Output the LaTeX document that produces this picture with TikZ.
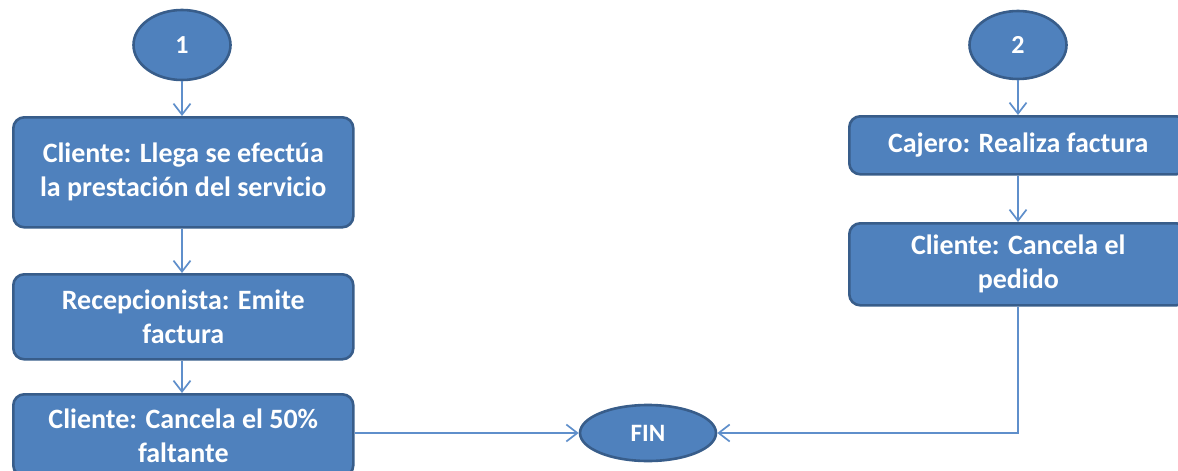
\documentclass[tikz,border=0pt]{standalone}
\usepackage{fontspec}
\setmainfont{Carlito}
\usetikzlibrary{arrows.meta,shapes.geometric}
\definecolor{boxfill}{HTML}{4F81BD}
\definecolor{boxline}{HTML}{385D8A}
\definecolor{wire}{HTML}{5F8FCB}
\tikzset{
  procbox/.style={draw=boxline, line width=2.6pt, fill=boxfill, rounded corners=11pt,
    text=white, font=\bfseries\fontsize{28}{34}\selectfont, align=center,
    inner sep=0pt, anchor=north west},
  term/.style={ellipse, draw=boxline, line width=2.6pt, fill=boxfill, inner sep=0pt,
    text=white, font=\bfseries\fontsize{26}{30}\selectfont},
  flow/.style={draw=wire, line width=1.7pt,
    -{Straight Barb[length=11pt,width=17pt,line width=1.7pt]}}
}
\begin{document}
\begin{tikzpicture}[x=1pt,y=-1pt]
\useasboundingbox (0,0) rectangle (1178,471);
\clip (0,0) rectangle (1178,471);

% start markers
\node[term, minimum width=97pt, minimum height=70pt] (s1) at (182,45) {1};
\node[term, minimum width=97pt, minimum height=68pt] (s2) at (1018,45) {2};

% left column
\node[procbox, minimum width=340pt, minimum height=110pt] (b1) at (12,116)
  {Cliente: Llega se efectúa\\la prestación del servicio};
\node[procbox, minimum width=340pt, minimum height=85pt] (b2) at (12,273)
  {Recepcionista: Emite\\factura};
\node[procbox, minimum width=340pt, minimum height=82pt] (b3) at (12,393)
  {Cliente: Cancela el 50\%\\faltante};

% right column
\node[procbox, minimum width=338pt, minimum height=58pt] (c1) at (848,115)
  {Cajero: Realiza factura};
\node[procbox, minimum width=338pt, minimum height=82pt] (c2) at (848,222)
  {Cliente: Cancela el\\pedido};

% end marker
\node[term, minimum width=136pt, minimum height=56pt,
  font=\bfseries\fontsize{25}{29}\selectfont] (fin) at (648,433) {FIN};

% connectors
\draw[flow] (s1.south) -- (b1.north -| s1.south);
\draw[flow] (b1.south -| s1.south) -- (b2.north -| s1.south);
\draw[flow] (b2.south -| s1.south) -- (b3.north -| s1.south);
\draw[flow] (s2.south) -- (c1.north -| s2.south);
\draw[flow] (c1.south -| s2.south) -- (c2.north -| s2.south);
\draw[flow] (b3.east |- fin.west) -- (fin.west);
\draw[flow] (c2.south -| s2.south) |- (fin.east);
\end{tikzpicture}
\end{document}
